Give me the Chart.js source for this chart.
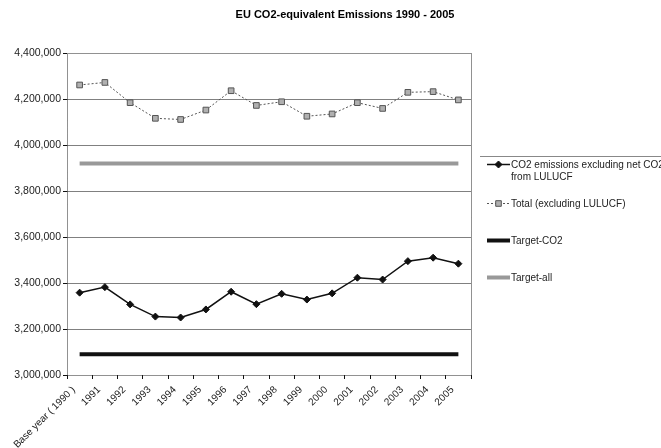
<!DOCTYPE html>
<html>
<head>
<meta charset="utf-8">
<script src="https://cdn.jsdelivr.net/npm/chart.js@4/dist/chart.umd.min.js"></script>
<style>
  html, body { margin: 0; padding: 0; background: #fff; }
  #wrap { width: 661px; height: 448px; position: relative; }
</style>
</head>
<body>
<div id="wrap"><canvas id="c" width="661" height="448"></canvas></div>
<script>
// Years on the category axis
const years = ['Base year ( 1990 )', '1991', '1992', '1993', '1994', '1995', '1996', '1997',
  '1998', '1999', '2000', '2001', '2002', '2003', '2004', '2005'];

// CO2 emissions excluding net CO2 from LULUCF (tonnes CO2-eq)
const co2Values = [3358000, 3382000, 3307000, 3254000, 3250000, 3285000, 3362000, 3308000,
  3353000, 3328000, 3355000, 3423000, 3415000, 3495000, 3510000, 3484000];

// Total greenhouse gases excluding LULUCF
const totalValues = [4261000, 4272000, 4184000, 4116000, 4111000, 4152000, 4236000, 4172000,
  4188000, 4125000, 4135000, 4184000, 4159000, 4229000, 4232000, 4196000];

// Kyoto targets (flat across the period)
const targetCo2 = 3090000;
const targetAll = 3920000;
const targetCo2Values = years.map(() => targetCo2);
const targetAllValues = years.map(() => targetAll);

// Value axis
const yMin = 3000000;
const yMax = 4400000;
const yStep = 200000;

const seriesNames = ['CO2 emissions excluding net CO2\nfrom LULUCF', 'Total (excluding LULUCF)',
  'Target-CO2', 'Target-all'];

const FONT = '"Liberation Sans", Arial, sans-serif';

// Chart title, dotted frame and the side legend
const decorations = {
  id: 'decorations',
  beforeDatasetsDraw(chart) {
    const { ctx, chartArea: a } = chart;
    ctx.save();
    ctx.strokeStyle = '#222';
    ctx.lineWidth = 1;
    ctx.setLineDash([1, 1]);
    ctx.beginPath();
    ctx.moveTo(a.left + 0.5, a.bottom + 0.5);
    ctx.lineTo(a.left + 0.5, a.top + 0.5);
    ctx.lineTo(a.right + 0.5, a.top + 0.5);
    ctx.lineTo(a.right + 0.5, a.bottom + 0.5);
    ctx.lineTo(a.left + 0.5, a.bottom + 0.5);
    ctx.stroke();
    ctx.restore();
  },
  afterDraw(chart) {
    const { ctx } = chart;
    ctx.save();
    // title
    ctx.fillStyle = '#000';
    ctx.font = 'bold 11px ' + FONT;
    ctx.textAlign = 'center';
    ctx.textBaseline = 'middle';
    ctx.fillText('EU CO2-equivalent Emissions 1990 - 2005', 345, 15);

    // legend
    ctx.strokeStyle = '#888';
    ctx.lineWidth = 1;
    ctx.beginPath();
    ctx.moveTo(480, 156.5);
    ctx.lineTo(661, 156.5);
    ctx.stroke();

    const rows = [164, 203, 240, 277];
    const x0 = 487, x1 = 510;
    chart.data.datasets.forEach((ds, i) => {
      const y = rows[i];
      ctx.save();
      ctx.strokeStyle = ds.borderColor;
      ctx.lineWidth = ds.borderWidth;
      ctx.setLineDash(ds.borderDash || []);
      ctx.beginPath();
      ctx.moveTo(x0, y + 0.5);
      ctx.lineTo(x1, y + 0.5);
      ctx.stroke();
      ctx.restore();
      if (ds.pointRadius > 0) {
        ctx.fillStyle = ds.pointBackgroundColor;
        ctx.strokeStyle = ds.pointBorderColor;
        ctx.lineWidth = ds.pointBorderWidth;
        ctx.setLineDash([]);
        ctx.beginPath();
        const r = ds.pointRadius;
        const cx = (x0 + x1) / 2, cy = y + 0.5;
        if (ds.pointStyle === 'rectRot') {
          ctx.moveTo(cx, cy - r); ctx.lineTo(cx + r, cy); ctx.lineTo(cx, cy + r); ctx.lineTo(cx - r, cy);
          ctx.closePath();
        } else {
          ctx.rect(cx - r * 0.7, cy - r * 0.7, r * 1.4, r * 1.4);
        }
        ctx.fill();
        ctx.stroke();
      }
      ctx.fillStyle = '#222';
      ctx.font = '10px ' + FONT;
      ctx.textAlign = 'left';
      ctx.textBaseline = 'middle';
      seriesNames[i].split('\n').forEach((line, k) => {
        ctx.fillText(line, x1 + 1, y + 1 + k * 12);
      });
    });
    ctx.restore();
  }
};

new Chart(document.getElementById('c'), {
  type: 'line',
  data: {
    labels: years,
    datasets: [
      {
        label: 'CO2 emissions excluding net CO2 from LULUCF',
        data: co2Values,
        borderColor: '#111',
        borderWidth: 1.5,
        pointStyle: 'rectRot',
        pointRadius: 3.5,
        pointBackgroundColor: '#111',
        pointBorderColor: '#111',
        pointBorderWidth: 1,
        tension: 0
      },
      {
        label: 'Total (excluding LULUCF)',
        data: totalValues,
        borderColor: '#555',
        borderWidth: 1,
        borderDash: [2, 2],
        pointStyle: 'rect',
        pointRadius: 4,
        pointBackgroundColor: '#b0b0b0',
        pointBorderColor: '#555',
        pointBorderWidth: 1,
        tension: 0
      },
      {
        label: 'Target-CO2',
        data: targetCo2Values,
        borderColor: '#111',
        borderWidth: 4,
        pointRadius: 0,
        tension: 0
      },
      {
        label: 'Target-all',
        data: targetAllValues,
        borderColor: '#999',
        borderWidth: 4,
        pointRadius: 0,
        tension: 0
      }
    ]
  },
  options: {
    responsive: false,
    animation: false,
    layout: { padding: { top: 53, right: 190, left: 0, bottom: 0 } },
    plugins: {
      legend: { display: false },
      title: { display: false },
      tooltip: { enabled: false }
    },
    scales: {
      x: {
        offset: true,
        grid: {
          display: true,
          drawOnChartArea: false,
          drawTicks: true,
          tickLength: 4,
          color: '#111',
          offset: true
        },
        border: { display: false },
        ticks: {
          minRotation: 45,
          maxRotation: 45,
          autoSkip: false,
          padding: 5,
          labelOffset: -6,
          color: '#222',
          font: { family: FONT, size: 10 }
        },
        afterFit(scale) { scale.height = 73; }
      },
      y: {
        min: yMin,
        max: yMax,
        ticks: {
          stepSize: yStep,
          padding: 2,
          color: '#222',
          font: { family: FONT, size: 10.5 },
          callback: (v) => v.toLocaleString('en-US')
        },
        grid: {
          drawTicks: true,
          tickLength: 4,
          color: (c) => (c.tick && (c.tick.value === yMin || c.tick.value === yMax)) ? 'rgba(0,0,0,0)' : '#808080',
          tickColor: '#111'
        },
        border: { display: false },
        afterFit(scale) { scale.width = 67; }
      }
    }
  },
  plugins: [decorations]
});
</script>
</body>
</html>
